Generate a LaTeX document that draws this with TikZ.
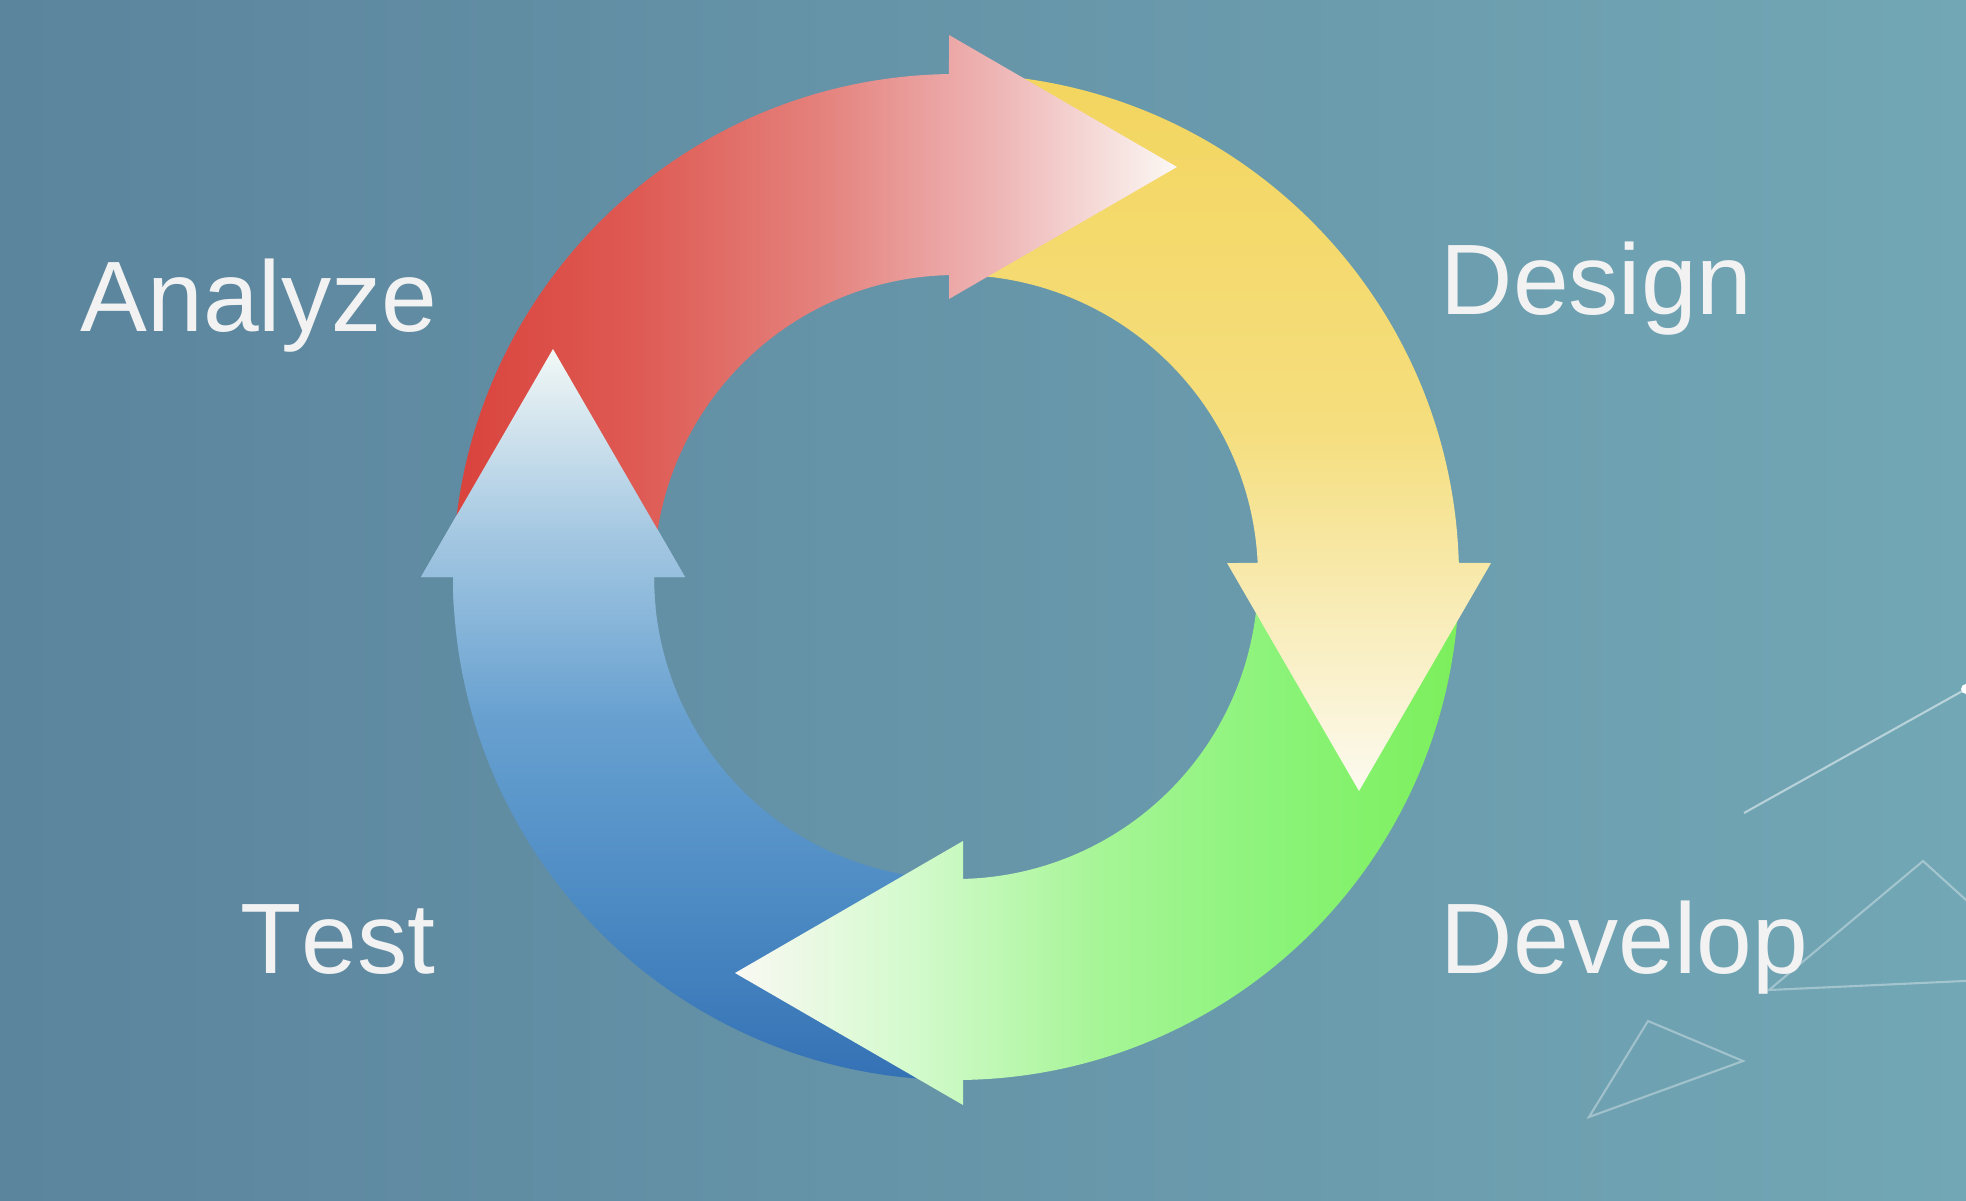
\documentclass[tikz,border=0pt]{standalone}
\usepackage{fontspec}
\setmainfont{Liberation Sans}[Kerning=Off]
\usetikzlibrary{calc}

\definecolor{bgleft}{HTML}{5B849D}
\definecolor{bgright}{HTML}{72A7B5}
\definecolor{labeltext}{HTML}{F2F2F2}
\definecolor{redA}{HTML}{D9433C}
\definecolor{redB}{HTML}{DE5A53}
\definecolor{redC}{HTML}{E4807B}
\definecolor{redD}{HTML}{EEB5B5}
\definecolor{redE}{HTML}{FBF8F4}
\definecolor{yellowA}{HTML}{F3D55E}
\definecolor{yellowB}{HTML}{F5DE7E}
\definecolor{yellowC}{HTML}{FCFAF0}
\definecolor{greenA}{HTML}{FAF9F3}
\definecolor{greenB}{HTML}{D2FACB}
\definecolor{greenC}{HTML}{A6F596}
\definecolor{greenD}{HTML}{8AF378}
\definecolor{greenE}{HTML}{7CEF5B}
\definecolor{blueA}{HTML}{3371B5}
\definecolor{blueB}{HTML}{4D8BC4}
\definecolor{blueC}{HTML}{68A1D0}
\definecolor{blueD}{HTML}{A5C8E2}
\definecolor{blueE}{HTML}{F2F8F6}

\pgfdeclarehorizontalshading{analyzeshade}{100bp}{color(0bp)=(redA); color(25bp)=(redA);
  color(37.5bp)=(redB); color(50bp)=(redC); color(62.5bp)=(redD); color(75bp)=(redE); color(100bp)=(redE)}
\pgfdeclareverticalshading{designshade}{100bp}{color(0bp)=(yellowC); color(25bp)=(yellowC);
  color(50bp)=(yellowB); color(75bp)=(yellowA); color(100bp)=(yellowA)}
\pgfdeclarehorizontalshading{developshade}{100bp}{color(0bp)=(greenA); color(25bp)=(greenA);
  color(37.5bp)=(greenB); color(50bp)=(greenC); color(62.5bp)=(greenD); color(75bp)=(greenE); color(100bp)=(greenE)}
\pgfdeclareverticalshading{testshade}{100bp}{color(0bp)=(blueA); color(25bp)=(blueA);
  color(37.5bp)=(blueB); color(50bp)=(blueC); color(62.5bp)=(blueD); color(75bp)=(blueE); color(100bp)=(blueE)}

% ring arrow: from angle #1 clockwise to #2 (outer) / #3 (inner),
% head pointing along #4-90, head base centre #5
\newcommand{\ringarrow}[5]{%
  (c) ++(#1:5.03) arc[start angle=#1, end angle=#2, radius=5.03]
  -- ($(#5)+(#4:1.32)$)
  -- ($(#5)+(#4-90:2.28)$)
  -- ($(#5)+(#4+180:1.32)$)
  -- ($(c)+(#3:3.02)$)
  arc[start angle=#3, end angle=#1, radius=3.02] -- cycle}

\begin{document}
\begin{tikzpicture}
        [
            phase/.style = {anchor = base west, inner sep = 0pt, text = labeltext,
                            font = \fontsize{28.5}{34}\selectfont},
            deco/.style = {draw = white, line width = 0.6pt},
            analyzearrow/.style = {shading = analyzeshade},
            designarrow/.style = {shading = designshade},
            developarrow/.style = {shading = developshade},
            testarrow/.style = {shading = testshade}
        ]
        
        \useasboundingbox (0,0) rectangle (19.66,12);
        \shade [left color = bgleft, right color = bgright] (0,0) rectangle (19.66,12);
        \coordinate (c) at (9.56,6.23);
        \coordinate (analyzehead) at (9.49,10.33);
        \coordinate (designhead) at (13.59,6.37);
        \coordinate (develophead) at (9.63,2.27);
        \coordinate (testhead) at (5.53,6.23);
        
        % thin shapes in the corner
        \begin{scope}
            \clip (0,0) rectangle (19.66,12);
            \draw [deco, draw opacity = 0.5] (17.44,3.87) -- (19.66,5.11);
            \fill [white] (19.66,5.11) circle (0.05);
            \draw [deco, draw opacity = 0.35] (19.23,3.39) -- (17.69,2.10) -- (20.51,2.23) -- cycle;
            \draw [deco, draw opacity = 0.35] (16.48,1.79) -- (17.43,1.39) -- (15.89,0.83) -- cycle;
        \end{scope}
        
        % the four arrows
        \shade [testarrow] \ringarrow{-89}{-180}{-180}{180}{testhead};
        \shade [developarrow] \ringarrow{2}{-89.2}{-88.67}{-90}{develophead};
        \shade [designarrow] \ringarrow{91}{1.6}{2.66}{0}{designhead};
        \shade [analyzearrow] \ringarrow{180}{90.8}{91.33}{90}{analyzehead};
        \begin{scope}
            \clip ($(testhead)+(1.32,0)$) -- ($(testhead)+(0,2.28)$) -- ($(testhead)+(-1.32,0)$)
                -- ($(testhead)+(-1.32,-0.3)$) -- ($(testhead)+(1.32,-0.3)$) -- cycle;
            \shade [testarrow] \ringarrow{-89}{-180}{-180}{180}{testhead};
        \end{scope}
        
        \node [phase] (analyze) at (0.80,8.68) {Analyze};
        \node [phase] (design) at (14.40,8.85) {Design};
        \node [phase] (test) at (2.40,2.27) {Test};
        \node [phase] (develop) at (14.40,2.27) {Develop};
    \end{tikzpicture}
\end{document}
